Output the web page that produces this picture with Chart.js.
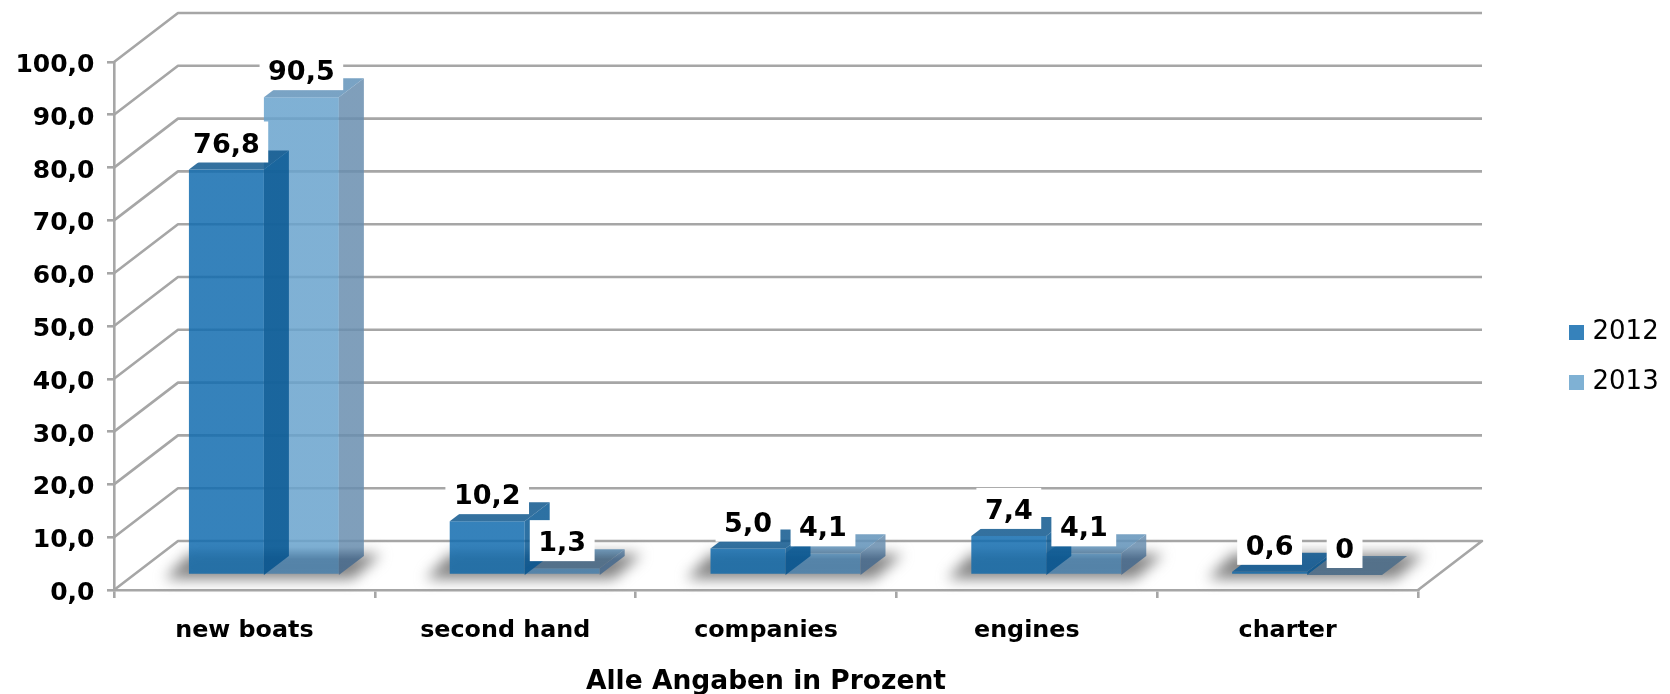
<!DOCTYPE html>
<html><head><meta charset="utf-8">
<style>html,body{margin:0;padding:0;background:#fff}canvas{display:block}</style>
<script src="https://cdn.jsdelivr.net/npm/chart.js@4"></script>
</head><body><canvas id="c" width="1670" height="694"></canvas>
<script>
const categories = ['new boats','second hand','companies','engines','charter'];
const values2012 = [76.8,10.2,5.0,7.4,0.6];
const values2013 = [90.5,1.3,4.1,4.1,0];
const axisTitle = 'Alle Angaben in Prozent';

const FONT = '"DejaVu Sans", Verdana, sans-serif';
const GRID = '#a6a6a6';
const OFF_X = 19.5, OFF_Y = -15;      // floor inset of the bars
const DEPTH_X = 25, DEPTH_Y = -19;    // bar depth
const WALL_X = 64, WALL_Y = -49;      // chart depth

const palette = [
  {front:['rgba(18,108,175,.85)','rgba(30,110,168,.93)'], side:['rgba(8,88,147,.85)','rgba(14,88,144,.95)'], top:['rgba(16,88,142,.85)','rgba(28,96,150,.95)'], key:'#3682bb'},
  {front:['rgba(105,163,205,.85)','rgba(82,131,170,.95)'], side:['rgba(105,142,175,.85)','rgba(78,110,142,.95)'], top:['rgba(98,147,186,.85)','rgba(82,112,138,.96)'], key:'#7fb1d4'}
];

function band(chart, pair){
  if(!chart.chartArea) return pair[0];
  const base = chart.scales.y.getPixelForValue(0);
  const g = chart.ctx.createLinearGradient(0, base-28, 0, base-16);
  g.addColorStop(0, pair[0]); g.addColorStop(1, pair[1]);
  return g;
}
function poly(ctx, pts, fill){
  ctx.beginPath(); pts.forEach((p,i)=> i?ctx.lineTo(p[0],p[1]):ctx.moveTo(p[0],p[1]));
  ctx.closePath(); ctx.fillStyle = fill; ctx.fill();
}
function fmt(v){ return v===0 ? '0' : v.toFixed(1).replace('.',','); }
function keyMark(color){
  const k = document.createElement('canvas'); k.width = 15; k.height = 15;
  const c = k.getContext('2d'); c.fillStyle = color; c.fillRect(0,0,15,15);
  return k;
}

const scene = {
  id:'scene',
  afterLayout(chart){
    const l = chart.legend; const w = l.width, h = l.height;
    l.left = 1549.5; l.right = l.left+w; l.top = 295.5; l.bottom = l.top+h+20;
  },
  beforeDraw(chart){
    const y = chart.scales.y;
    if(y._labelsNudged) return;
    y.getLabelItems().forEach(it=>{ it.options.translation[1] += 3.5; });
    y._labelsNudged = true;
  },
  beforeDatasetsDraw(chart){
    const ctx = chart.ctx, y = chart.scales.y, a = chart.chartArea;
    ctx.save(); ctx.strokeStyle = GRID; ctx.lineWidth = 2.6; ctx.lineJoin='round';
    y.ticks.forEach(t=>{
      const py = y.getPixelForValue(t.value);
      ctx.beginPath(); ctx.moveTo(a.left,py); ctx.lineTo(a.left+WALL_X,py+WALL_Y); ctx.lineTo(a.right+WALL_X,py+WALL_Y);
      if(t.value===0) ctx.lineTo(a.right,py);
      ctx.stroke();
    });
    ctx.restore();
    ctx.save(); ctx.translate(OFF_X,OFF_Y);
    const base = y.getPixelForValue(0);
    const m0 = chart.getDatasetMeta(0).data, m1 = chart.getDatasetMeta(1).data;
    ctx.save(); ctx.filter='blur(7px)';
    m0.forEach((e,i)=>{
      const L = e.x-e.width/2, R = m1[i].x+m1[i].width/2;
      poly(ctx,[[L-24,base+4],[L,base-21],[R+42,base-21],[R+14,base+4]],'rgba(125,125,125,.95)');
    });
    ctx.restore();
  },
  afterDatasetDraw(chart,args){
    const ctx = chart.ctx, p = palette[args.index];
    const base = chart.scales.y.getPixelForValue(0);
    args.meta.data.forEach(e=>{
      const L = e.x-e.width/2, R = e.x+e.width/2, T = e.y;
      poly(ctx,[[R,T],[R+DEPTH_X,T+DEPTH_Y],[R+DEPTH_X,base+DEPTH_Y],[R,base]],band(chart,p.side));
      poly(ctx,[[L,T],[L+DEPTH_X,T+DEPTH_Y],[R+DEPTH_X,T+DEPTH_Y],[R,T]],band(chart,p.top));
    });
  },
  afterDatasetsDraw(chart){
    const ctx = chart.ctx;
    ctx.restore();
    ctx.save();
    ctx.font = 'bold 27px '+FONT; ctx.textAlign='center'; ctx.textBaseline='middle';
    chart.data.datasets.forEach((ds,d)=>{
      chart.getDatasetMeta(d).data.forEach((e,i)=>{
        const s = fmt(ds.data[i]), w = ctx.measureText(s).width+17;
        const cx = e.x+OFF_X, bottom = e.y+OFF_Y-7, h = 41;
        ctx.fillStyle='#fff'; ctx.fillRect(cx-w/2,bottom-h,w,h);
        ctx.fillStyle='#000'; ctx.fillText(s,cx,bottom-h/2+3.5);
      });
    });
    ctx.restore();
  }
};

new Chart(document.getElementById('c'),{
  type:'bar',
  data:{labels:categories,datasets:[
    {label:'2012',data:values2012,backgroundColor:c=>band(c.chart,palette[0].front),borderWidth:0,clip:false,categoryPercentage:.575,barPercentage:1},
    {label:'2013',data:values2013,backgroundColor:c=>band(c.chart,palette[1].front),borderWidth:0,clip:false,categoryPercentage:.575,barPercentage:1}
  ]},
  options:{
    responsive:false,animation:false,devicePixelRatio:1,
    layout:{padding:{left:0,top:62,right:252,bottom:0}},
    plugins:{
      tooltip:{enabled:false},title:{display:false},
      legend:{position:'chartArea',align:'start',labels:{
        usePointStyle:true,pointStyleWidth:6,boxHeight:15,padding:24,color:'#000',font:{family:FONT,size:26},
        generateLabels:chart=>Chart.defaults.plugins.legend.labels.generateLabels(chart).map((it,i)=>Object.assign(it,{pointStyle:keyMark(palette[i].key)}))
      }}
    },
    scales:{
      y:{min:0,max:100,
        afterFit:s=>{s.width=114;},
        ticks:{stepSize:10,padding:12.5,color:'#000',font:{family:FONT,size:25,weight:'bold'},callback:v=>v.toFixed(1).replace('.',',')},
        grid:{drawOnChartArea:false,drawTicks:true,tickLength:7,color:GRID,lineWidth:2.6},
        border:{color:GRID,width:2.6}},
      x:{
        afterFit:s=>{s.height=104;},
        ticks:{padding:19,color:'#000',autoSkip:false,maxRotation:0,font:{family:FONT,size:23.8,weight:'bold'}},
        grid:{drawOnChartArea:false,drawTicks:true,tickLength:8,color:GRID,lineWidth:2.6,offset:true},
        border:{color:GRID,width:2.6},
        title:{display:true,text:axisTitle,color:'#000',padding:{top:0,bottom:-1},font:{family:FONT,size:26.5,weight:'bold',lineHeight:1}}}
    }
  },
  plugins:[scene]
});
</script></body></html>
